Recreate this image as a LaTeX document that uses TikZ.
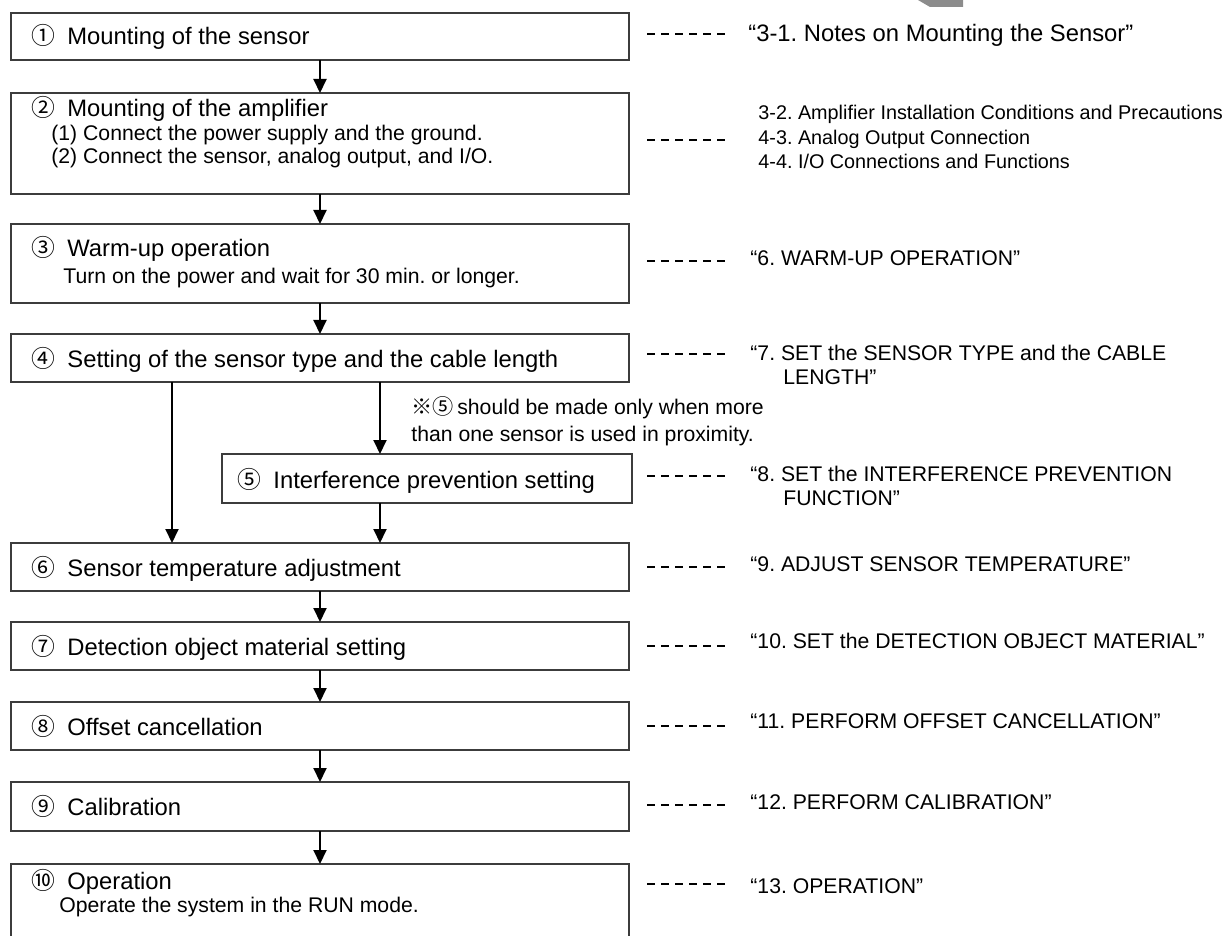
\documentclass[tikz,border=0pt]{standalone}
\usepackage{fontspec}
\setmainfont{Liberation Sans}
\newfontfamily\cjk{Noto Sans CJK JP}
\usetikzlibrary{arrows.meta}
\definecolor{boxgray}{HTML}{3C3C3C}
\definecolor{tabgray}{HTML}{8C8C8C}
\newcommand{\cn}[1]{\makebox[18pt][l]{\cjk #1}}
\frenchspacing
\begin{document}
\begin{tikzpicture}[x=0.5pt,y=-0.5pt,
  stepbox/.style={draw=boxgray, line width=0.75pt, fill=white, inner sep=0pt, outer sep=0pt, minimum width=309pt},
  title/.style={anchor=base west, inner sep=0pt, font=\fontsize{11.9}{14}\selectfont},
  sub/.style={anchor=base west, inner sep=0pt, font=\fontsize{10.6}{12.5}\selectfont},
  reftext/.style={anchor=base west, inner sep=0pt, font=\fontsize{10.6}{12.5}\selectfont},
  refbig/.style={anchor=base west, inner sep=0pt, font=\fontsize{11.9}{14}\selectfont},
  reflist/.style={anchor=base west, inner sep=0pt, font=\fontsize{9.9}{12}\selectfont},
  flow/.style={line width=1pt, -{Triangle[length=7pt,width=6.5pt]}},
  leader/.style={line width=0.75pt, dash pattern=on 4pt off 3pt}]
\useasboundingbox (0,0) rectangle (1227,936);
\clip (0,0) rectangle (1227,936);

% gray tab at top
\fill[tabgray] (918,0) -- (963,0) -- (963,7) -- (930,7) -- cycle;

% boxes
\node[stepbox, minimum height=23.5pt] (b1) at (320,36.5) {};
\node[stepbox, minimum height=50.5pt] (b2) at (320,143.5) {};
\node[stepbox, minimum height=39.5pt] (b3) at (320,263.5) {};
\node[stepbox, minimum height=24pt] (b4) at (320,358) {};
\node[stepbox, minimum height=24.5pt, minimum width=205pt] (b5) at (427,478.5) {};
\node[stepbox, minimum height=24pt] (b6) at (320,567) {};
\node[stepbox, minimum height=24pt] (b7) at (320,646) {};
\node[stepbox, minimum height=24pt] (b8) at (320,726) {};
\node[stepbox, minimum height=24.5pt] (b9) at (320,806.5) {};
\node[stepbox, minimum height=40.5pt] (b10) at (320,904.5) {};

% box texts
\node[title] (t1) at (31,45) {\cn{①}Mounting of the sensor};
\node[title] (t2) at (31,117) {\cn{②}Mounting of the amplifier};
\node[sub] (t2a) at (51,141) {(1) Connect the power supply and the ground.};
\node[sub] (t2b) at (51,164) {(2) Connect the sensor, analog output, and I/O.};
\node[title] (t3) at (31,257) {\cn{③}Warm-up operation};
\node[sub] (t3a) at (63,284) {Turn on the power and wait for 30 min. or longer.};
\node[title] (t4) at (31,368) {\cn{④}Setting of the sensor type and the cable length};
\node[title] (t5) at (237,488) {\cn{⑤}Interference prevention setting};
\node[title] (t6) at (31,576) {\cn{⑥}Sensor temperature adjustment};
\node[title] (t7) at (31,655) {\cn{⑦}Detection object material setting};
\node[title] (t8) at (31,735) {\cn{⑧}Offset cancellation};
\node[title] (t9) at (31,815) {\cn{⑨}Calibration};
\node[title] (t10) at (31,889) {\cn{⑩}Operation};
\node[sub] (t10a) at (59,912) {Operate the system in the RUN mode.};

% note
\node[sub] (n1) at (411,415) {{\cjk ※⑤}\,should be made only when more};
\node[sub] (n2) at (411,442) {than one sensor is used in proximity.};

% main flow arrows
\draw[flow] (b1.south) -- (b2.north);
\draw[flow] (b2.south) -- (b3.north);
\draw[flow] (b3.south) -- (b4.north);
\draw[flow] (b6.south) -- (b7.north);
\draw[flow] (b7.south) -- (b8.north);
\draw[flow] (b8.south) -- (b9.north);
\draw[flow] (b9.south) -- (b10.north);
% branch arrows
\coordinate (L) at (172,0);
\coordinate (R) at (380,0);
\draw[flow] (b4.south -| L) -- (b6.north -| L);
\draw[flow] (b4.south -| R) -- (b5.north -| R);
\draw[flow] (b5.south -| R) -- (b6.north -| R);

% leaders
\draw[leader] ([xshift=9pt,yshift=1.25pt]b1.east) -- ++(39pt,0);
\draw[leader] ([xshift=9pt,yshift=1.75pt]b2.east) -- ++(39pt,0);
\draw[leader] ([xshift=9pt,yshift=1.25pt]b3.east) -- ++(39pt,0);
\draw[leader] ([xshift=9pt,yshift=2pt]b4.east) -- ++(39pt,0);
\draw[leader] ([xshift=7.5pt,yshift=1.25pt]b5.east) -- ++(39pt,0);
\draw[leader] ([xshift=9pt]b6.east) -- ++(39pt,0);
\draw[leader] ([xshift=9pt]b7.east) -- ++(39pt,0);
\draw[leader] ([xshift=9pt]b8.east) -- ++(39pt,0);
\draw[leader] ([xshift=9pt,yshift=0.75pt]b9.east) -- ++(39pt,0);
\draw[leader] ([xshift=9pt,yshift=10.25pt]b10.east) -- ++(39pt,0);

% reference texts
\node[refbig] (r1) at (748,42) {“3-1. Notes on Mounting the Sensor”};
\node[reflist] (r2a) at (758,120) {3-2. Amplifier Installation Conditions and Precautions};
\node[reflist] (r2b) at (758,145) {4-3. Analog Output Connection};
\node[reflist] (r2c) at (758,169) {4-4. I/O Connections and Functions};
\node[reftext] (r3) at (750,265.5) {“6. WARM-UP OPERATION”};
\node[reftext] (r4a) at (750,360.5) {“7. SET the SENSOR TYPE and the CABLE};
\node[reftext] (r4b) at (783,385) {LENGTH”};
\node[reftext] (r5a) at (750,481) {“8. SET the INTERFERENCE PREVENTION};
\node[reftext] (r5b) at (783,505) {FUNCTION”};
\node[reftext] (r6) at (750,571) {“9. ADJUST SENSOR TEMPERATURE”};
\node[reftext] (r7) at (750,648) {“10. SET the DETECTION OBJECT MATERIAL”};
\node[reftext] (r8) at (750,728) {“11. PERFORM OFFSET CANCELLATION”};
\node[reftext] (r9) at (750,809) {“12. PERFORM CALIBRATION”};
\node[reftext] (r10) at (750,893) {“13. OPERATION”};
\end{tikzpicture}
\end{document}
